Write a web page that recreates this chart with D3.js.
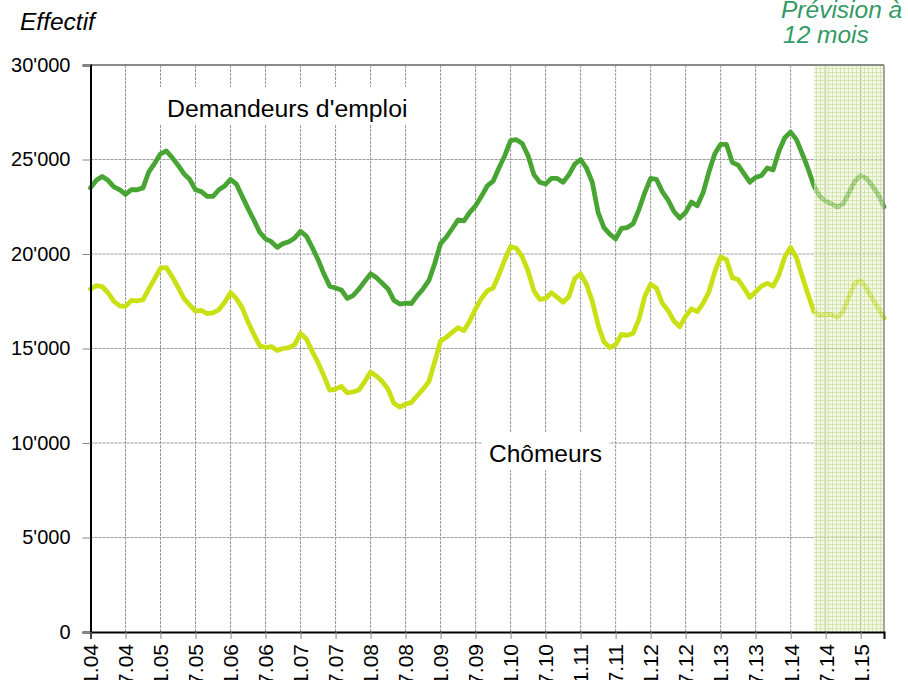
<!DOCTYPE html>
<html>
<head>
<meta charset="utf-8">
<script src="https://cdn.jsdelivr.net/npm/d3@7"></script>
<style>
  body { margin: 0; background: #fff; }
  text { font-family: "Liberation Sans", Arial, sans-serif; }
</style>
</head>
<body>
<div id="chart"></div>
<script>
// tick labels (one every 6 months, Jan 2004 -> Jan 2015)
const tickLabels = ["1.04","7.04","1.05","7.05","1.06","7.06","1.07","7.07","1.08","7.08","1.09","7.09",
                    "1.10","7.10","1.11","7.11","1.12","7.12","1.13","7.13","1.14","7.14","1.15"]
const yTicks = [0, 5000, 10000, 15000, 20000, 25000, 30000]

// monthly values Jan 2004 -> May 2015 (137 months)
const demandeurs = [
  23500,23900,24100,23900,23550,23400,23150,23400,23400,23500,24350,24800,
  25300,25450,25100,24700,24250,23950,23400,23300,23050,23050,23400,23600,
  23950,23700,23050,22400,21800,21150,20800,20650,20350,20550,20650,20850,
  21200,20950,20350,19700,18950,18300,18200,18100,17650,17800,18150,18550,
  18950,18750,18450,18150,17550,17350,17400,17380,17800,18150,18600,19500,
  20550,20900,21350,21800,21750,22200,22550,23050,23600,23850,24550,25200,
  26000,26050,25850,25200,24200,23800,23700,24000,24000,23800,24200,24750,
  25000,24550,23800,22200,21400,21050,20800,21350,21400,21600,22350,23250,
  24000,23950,23300,22850,22250,21900,22200,22750,22550,23250,24350,25300,
  25800,25800,24850,24700,24250,23800,24050,24150,24550,24450,25450,26150,
  26450,26050,25300,24500,23600,23050,22800,22650,22500,22650,23250,23850,
  24150,24000,23600,23150,22500]
const chomeurs = [
  18150,18330,18280,17950,17500,17250,17230,17550,17520,17580,18150,18700,
  19250,19280,18800,18250,17650,17300,16980,17020,16850,16880,17050,17450,
  17950,17650,17150,16400,15750,15150,15050,15100,14900,15000,15050,15200,
  15800,15500,14850,14250,13550,12800,12850,13000,12650,12700,12800,13250,
  13750,13550,13250,12850,12100,11900,12050,12150,12500,12850,13250,14300,
  15400,15600,15850,16100,15950,16450,17100,17650,18050,18200,18900,19700,
  20400,20300,19850,19100,18050,17600,17650,17950,17700,17450,17750,18700,
  18950,18400,17500,16250,15350,15050,15200,15750,15700,15800,16550,17750,
  18400,18200,17400,17000,16450,16150,16700,17100,16950,17400,18000,19050,
  19850,19700,18750,18650,18200,17700,18000,18300,18450,18300,18900,19850,
  20350,19800,18800,17850,16950,16750,16800,16800,16650,16950,17750,18450,
  18600,18200,17650,17150,16600]
const forecastStart = 124   // May 2014, 12 month forecast

const width = 908, height = 680
const mLeft = 90.5, mRight = 884, mTop = 65, mBottom = 632

const svg = d3.select("#chart").append("svg")
    .attr("width", width)
    .attr("height", height)

const x = d3.scaleLinear().domain([0, demandeurs.length - 1]).range([mLeft, mRight])
const y = d3.scaleLinear().domain([0, 30000]).range([mBottom, mTop])

function writeText(px, py, txt, size, opts = {}) {
    return svg.append("text")
        .attr("x", px).attr("y", py)
        .attr("font-size", size)
        .attr("font-style", opts.italic ? "italic" : "normal")
        .attr("fill", opts.fill || "#000")
        .attr("text-anchor", opts.anchor || "start")
        .text(txt)
}

// hatch pattern for forecast zone
const defs = svg.append("defs")
const pat = defs.append("pattern")
    .attr("id", "hatch")
    .attr("patternUnits", "userSpaceOnUse")
    .attr("width", 4).attr("height", 4)
pat.append("rect").attr("width", 4).attr("height", 4).attr("fill", "#eef4d6")
pat.append("path").attr("d", "M0,0.5H4M0.5,0V4")
    .attr("stroke", "#bfd57f").attr("stroke-width", 1)

// grid
const tickIdx = tickLabels.map((d, i) => i * 6)
svg.append("g").selectAll("line")
    .data(tickIdx.slice(1)).enter().append("line")
    .attr("x1", d => x(d)).attr("x2", d => x(d))
    .attr("y1", mTop).attr("y2", mBottom)
    .attr("stroke", "#999").attr("stroke-width", 1)
    .attr("stroke-dasharray", "3,1")
svg.append("g").selectAll("line")
    .data(yTicks.slice(1, -1)).enter().append("line")
    .attr("x1", mLeft).attr("x2", mRight)
    .attr("y1", d => y(d)).attr("y2", d => y(d))
    .attr("stroke", "#999").attr("stroke-width", 1)
    .attr("stroke-dasharray", "3,1")

// label boxes
svg.append("rect").attr("x", 160).attr("y", 87).attr("width", 254).attr("height", 38).attr("fill", "#fff")
svg.append("rect").attr("x", 482).attr("y", 432).attr("width", 127).attr("height", 38).attr("fill", "#fff")

// lines
const line = d3.line().x((d, i) => x(i)).y(d => y(d))
svg.append("path").datum(chomeurs)
    .attr("d", line)
    .attr("fill", "none").attr("stroke", "#c8e014")
    .attr("stroke-width", 4.8).attr("stroke-linejoin", "round").attr("stroke-linecap", "round")
svg.append("path").datum(demandeurs)
    .attr("d", line)
    .attr("fill", "none").attr("stroke", "#48a534")
    .attr("stroke-width", 4.8).attr("stroke-linejoin", "round").attr("stroke-linecap", "round")

// forecast zone on top
svg.append("rect")
    .attr("x", x(forecastStart)).attr("y", mTop)
    .attr("width", mRight - x(forecastStart)).attr("height", mBottom - mTop)
    .attr("fill", "url(#hatch)").attr("opacity", 0.62)

// frame
svg.append("line").attr("x1", mLeft).attr("x2", mRight).attr("y1", mTop).attr("y2", mTop)
    .attr("stroke", "#8a8a8a").attr("stroke-width", 2)
svg.append("line").attr("x1", mRight).attr("x2", mRight).attr("y1", mTop).attr("y2", mBottom)
    .attr("stroke", "#8a8a8a").attr("stroke-width", 1.5)

// axes
const yAxis = svg.append("g")
    .attr("transform", `translate(${mLeft},0)`)
    .call(d3.axisLeft(y).tickValues(yTicks).tickSize(8).tickPadding(12)
        .tickFormat(d => d3.format(",")(d).replace(/,/g, "'")))
yAxis.select(".domain").attr("stroke", "#000").attr("stroke-width", 2)
yAxis.selectAll(".tick line").attr("stroke", "#888")
yAxis.selectAll(".tick text").attr("font-size", 20).attr("fill", "#000")
    .attr("font-family", "'Liberation Sans', Arial, sans-serif")

const xAxis = svg.append("g")
    .attr("transform", `translate(0,${mBottom})`)
    .call(d3.axisBottom(x).tickValues(tickIdx).tickSize(7)
        .tickFormat((d, i) => tickLabels[i]))
xAxis.select(".domain").attr("stroke", "#000").attr("stroke-width", 2)
xAxis.selectAll(".tick line").attr("stroke", "#888")
xAxis.selectAll(".tick text")
    .attr("font-size", 21).attr("fill", "#000")
    .attr("font-family", "'Liberation Sans', Arial, sans-serif")
    .attr("transform", "rotate(-90)")
    .attr("text-anchor", "end")
    .attr("x", -12).attr("y", 0).attr("dy", "0.35em")

// annotations
writeText(20, 30, "Effectif", 24.5, { italic: true })
writeText(167, 117, "Demandeurs d'emploi", 24.8)
writeText(489, 462, "Chômeurs", 24.5)
writeText(781, 18, "Prévision à", 24.5, { italic: true, fill: "#339966" })
writeText(783, 43, "12 mois", 24.5, { italic: true, fill: "#339966" })
</script>
</body>
</html>
